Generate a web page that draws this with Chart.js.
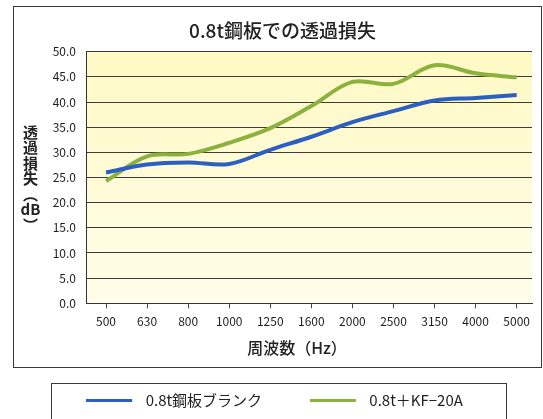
<!DOCTYPE html>
<html>
<head>
<meta charset="utf-8">
<script src="https://cdn.jsdelivr.net/npm/chart.js@4.4.1/dist/chart.umd.min.js"></script>
<style>
html,body{margin:0;padding:0;background:#ffffff;}
#wrap{width:543px;height:419px;overflow:hidden;}
canvas{display:block;}
</style>
</head>
<body>
<div id="wrap"><canvas id="c" width="543" height="419"></canvas></div>
<script>
// ---- data ----
const categories = ['500','630','800','1000','1250','1600','2000','2500','3150','4000','5000'];
const blankSteel = [26.0, 27.6, 28.0, 27.7, 30.5, 33.1, 36.0, 38.2, 40.3, 40.8, 41.4];
const withKF20A  = [24.3, 29.2, 29.7, 31.9, 34.8, 39.2, 44.0, 43.6, 47.3, 45.7, 44.9];
const seriesNames = ['0.8t鋼板ブランク', '0.8t＋KF−20A'];
const chartTitle = '0.8t鋼板での透過損失';
const xTitle = '周波数（Hz）';
const yTitleParts = ['透', '過', '損', '失', '︵', 'dB', '︶'];

const FONT = '"Noto Sans CJK JP", "Noto Sans", sans-serif';
const BLUE = '#2c5fc2';
const GREEN = '#8cb140';

function legendSwatch(color) {
  const c = document.createElement('canvas');
  c.width = 52; c.height = 3;
  const g = c.getContext('2d');
  g.fillStyle = color;
  g.fillRect(0, 0, 46, 3);
  return c;
}

const decor = {
  id: 'decor',
  beforeDraw(chart) {
    const {ctx, chartArea: a} = chart;
    ctx.save();
    ctx.fillStyle = '#ffffff';
    ctx.fillRect(0, 0, chart.width, chart.height);
    const g = ctx.createLinearGradient(0, a.top, 0, a.bottom);
    g.addColorStop(0, '#fff9c4');
    g.addColorStop(1, '#fffde9');
    ctx.fillStyle = g;
    ctx.fillRect(a.left, a.top, a.right - a.left, a.bottom - a.top);
    ctx.restore();
  },
  afterDraw(chart) {
    const {ctx, chartArea: a} = chart;
    ctx.save();
    ctx.strokeStyle = '#3a3a3a';
    ctx.lineWidth = 1;
    ctx.strokeRect(13.5, 6.5, 528, 361);
    ctx.strokeRect(51.5, 383.5, 455, 60);
    ctx.fillStyle = '#222222';
    ctx.textAlign = 'center';
    ctx.textBaseline = 'middle';
    ctx.font = '500 19px ' + FONT;
    ctx.fillText(chartTitle, 282.5, 30.5);
    ctx.font = '500 16px ' + FONT;
    ctx.fillText(xTitle, 297, 348);
    ctx.font = '600 15px ' + FONT;
    const step = 15.5;
    const mid = (a.top + a.bottom) / 2 + 1;
    const y0 = mid - step * (yTitleParts.length - 1) / 2;
    yTitleParts.forEach((t, i) => ctx.fillText(t, 30.5, y0 + i * step));
    ctx.restore();
  }
};

const toPts = arr => arr.map((v, i) => ({x: i, y: v}));

new Chart(document.getElementById('c'), {
  type: 'line',
  data: {
    datasets: [
      {label: seriesNames[0], data: toPts(blankSteel), borderColor: BLUE, backgroundColor: BLUE,
       borderWidth: 4, pointRadius: 0, pointHoverRadius: 0, pointStyle: legendSwatch(BLUE), tension: 0.35, fill: false},
      {label: seriesNames[1], data: toPts(withKF20A), borderColor: GREEN, backgroundColor: GREEN,
       borderWidth: 4, pointRadius: 0, pointHoverRadius: 0, pointStyle: legendSwatch(GREEN), tension: 0.35, fill: false}
    ]
  },
  options: {
    responsive: false,
    animation: false,
    devicePixelRatio: 1,
    layout: {padding: {left: 17, right: 11, top: 51.7, bottom: 1}},
    plugins: {
      title: {display: false},
      tooltip: {enabled: false},
      legend: {
        display: true,
        position: 'bottom',
        labels: {
          usePointStyle: true,
          pointStyleWidth: 52,
          padding: 47.7,
          color: '#222222',
          font: {family: FONT, size: 15}
        }
      }
    },
    scales: {
      x: {
        type: 'linear',
        min: -0.487,
        max: 10.373,
        afterBuildTicks(scale) { scale.ticks = categories.map((c, i) => ({value: i})); },
        afterFit(scale) { scale.height = 42; },
        ticks: {
          callback: v => categories[v],
          color: '#1e1e1e',
          padding: 6,
          maxRotation: 0,
          autoSkip: false,
          font: {family: FONT, size: 12}
        },
        grid: {display: true, drawOnChartArea: false, drawTicks: true, tickLength: 5, color: '#444444', lineWidth: 1},
        border: {display: true, color: '#333333', width: 1}
      },
      y: {
        min: 0,
        max: 50,
        afterFit(scale) { scale.width = 69; },
        ticks: {
          stepSize: 5,
          callback: v => Number(v).toFixed(1),
          color: '#1e1e1e',
          padding: 10,
          font: {family: FONT, size: 12}
        },
        grid: {color: '#3c3c3c', lineWidth: 1, drawTicks: false},
        border: {display: true, color: '#333333', width: 1}
      }
    }
  },
  plugins: [decor]
});
</script>
</body>
</html>
